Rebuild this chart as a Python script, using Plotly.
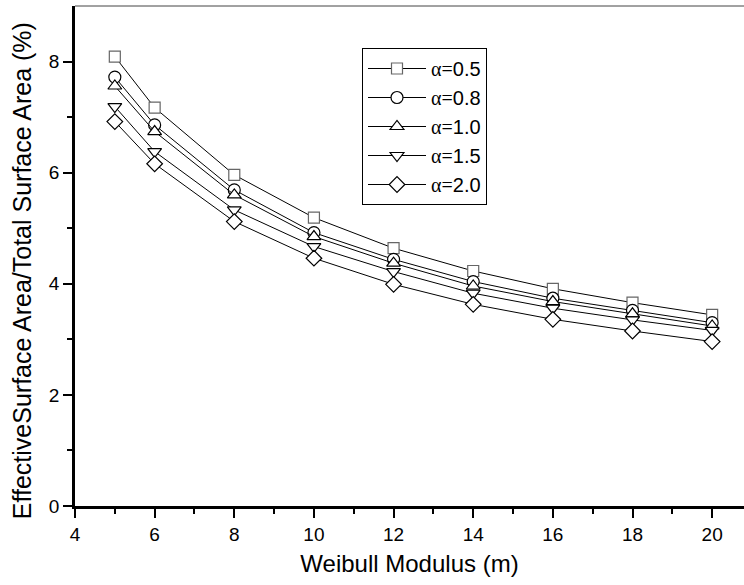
import plotly.graph_objects as go

m_values = [5, 6, 8, 10, 12, 14, 16, 18, 20]
alpha_labels = ["0.5", "0.8", "1.0", "1.5", "2.0"]
ratio_a05 = [8.09, 7.17, 5.96, 5.19, 4.64, 4.23, 3.91, 3.66, 3.44]
ratio_a08 = [7.72, 6.86, 5.69, 4.92, 4.44, 4.04, 3.74, 3.52, 3.30]
ratio_a10 = [7.56, 6.74, 5.60, 4.85, 4.37, 3.96, 3.68, 3.46, 3.24]
ratio_a15 = [7.19, 6.38, 5.33, 4.67, 4.22, 3.83, 3.56, 3.35, 3.16]
ratio_a20 = [6.92, 6.16, 5.12, 4.46, 3.99, 3.63, 3.36, 3.15, 2.96]

series = [ratio_a05, ratio_a08, ratio_a10, ratio_a15, ratio_a20]
symbols = ["square", "circle", "triangle-up", "triangle-down", "diamond"]
edge_colors = ["#666666", "black", "black", "black", "black"]
sizes = [11, 12, 12, 12, 12]

fig = go.Figure()
for lab, ys, sym, ec, sz in zip(alpha_labels, series, symbols, edge_colors, sizes):
    fig.add_trace(go.Scatter(
        x=m_values, y=ys, mode="lines+markers",
        name='<span style="font-family:Liberation Serif">α=</span>' + lab,
        line=dict(color="black", width=1),
        marker=dict(symbol=sym, size=sz, color="white",
                    line=dict(color=ec, width=1.2)),
    ))

fig.update_layout(
    width=744, height=585,
    margin=dict(l=75, r=0, t=6, b=79),
    paper_bgcolor="white", plot_bgcolor="white",
    font=dict(family="Liberation Sans, Arial, sans-serif", color="black"),
    showlegend=True,
    legend=dict(
        x=0.429, y=0.916, xanchor="left", yanchor="top",
        bgcolor="white", bordercolor="black", borderwidth=1,
        font=dict(size=20, family="Liberation Sans, Arial, sans-serif"),
        itemwidth=58, tracegroupgap=0,
    ),
    xaxis=dict(
        range=[4, 20.8], tickvals=[4, 6, 8, 10, 12, 14, 16, 18, 20],
        showgrid=False, zeroline=False,
        showline=True, linecolor="black", linewidth=2.5,
        ticks="outside", ticklen=9, tickwidth=2, tickcolor="black",
        minor=dict(tickvals=[5, 7, 9, 11, 13, 15, 17, 19], ticks="outside",
                   ticklen=5, tickwidth=2, tickcolor="black"),
        tickfont=dict(size=19),
        title=dict(text="Weibull Modulus (m)", font=dict(size=24), standoff=12),
        mirror=False,
    ),
    yaxis=dict(
        range=[0, 9], tickvals=[0, 2, 4, 6, 8],
        showgrid=False, zeroline=False,
        showline=True, linecolor="black", linewidth=2.5,
        ticks="outside", ticklen=9, tickwidth=2, tickcolor="black",
        minor=dict(tickvals=[1, 3, 5, 7], ticks="outside",
                   ticklen=5, tickwidth=2, tickcolor="black"),
        tickfont=dict(size=19),
    ),
    annotations=[dict(
        text="EffectiveSurface Area/Total Surface Area (%)",
        xref="paper", yref="paper", x=-0.079, y=0.47,
        xanchor="center", yanchor="middle", textangle=-90,
        showarrow=False, font=dict(size=25),
    )],
)

# thin top border line of the frame
fig.add_shape(type="line", xref="paper", yref="paper", x0=0, x1=1, y0=1, y1=1,
              line=dict(color="#444444", width=1))

fig.write_html("out.html")
